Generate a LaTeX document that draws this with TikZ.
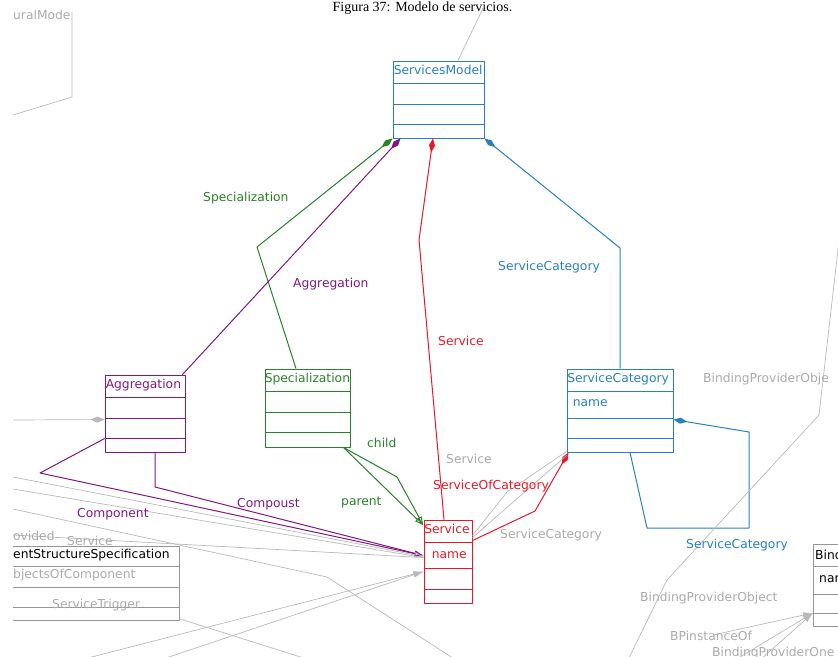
\documentclass[tikz,border=0pt]{standalone}
\usepackage{fontspec}
\setsansfont{DejaVu Sans}
\newfontfamily\capfont{Liberation Serif}
\usetikzlibrary{arrows.meta,positioning,calc}
\definecolor{smBlue}{RGB}{40,128,190}
\definecolor{smPurple}{RGB}{128,24,128}
\definecolor{smGreen}{RGB}{40,130,40}
\definecolor{smRed}{RGB}{230,25,40}
\definecolor{lineGray}{RGB}{185,185,185}
\definecolor{boxGray}{RGB}{150,150,150}
\definecolor{textGray}{RGB}{170,170,170}

\begin{document}
\begin{tikzpicture}[x=1pt, y=-1pt, line join=round,
    every node/.style={font=\sffamily\fontsize{12.3}{14}\selectfont, inner sep=0pt},
    cls/.style={draw=#1, line width=0.9pt},
    ttl/.style={anchor=base west, text=#1},
    link/.style={draw=#1, line width=1pt},
    comp/.style={{Diamond[length=14pt,width=6pt]}-},
    nav/.style={-{Latex[open,length=9pt,width=6pt]}},
    fnav/.style={-{Latex[length=10pt,width=6pt]}}]
  \useasboundingbox (0,0) rectangle (838,656);

  % caption
  \node[font=\capfont\fontsize{14}{16}\selectfont, anchor=base] (caption) at (422.5,11) {Figura 37: Modelo de servicios.};

  \begin{scope}
    \clip (13,0) rectangle (838,656);

    % ServicesModel
    \node[cls=smBlue, minimum width=91pt, minimum height=77pt] (model) at (438.5,99.5) {};
    \node[ttl=smBlue] (model-t) at ([xshift=1,yshift=-14]model.north west) {ServicesModel};
    \foreach \d in {23,44,64}
      \draw[smBlue, line width=0.9pt] ([yshift=-\d]model.north west) -- ([yshift=-\d]model.north east);

    % Aggregation
    \node[cls=smPurple, minimum width=80pt, minimum height=77pt] (aggr) at (145,413.5) {};
    \node[ttl=smPurple] (aggr-t) at ([xshift=1,yshift=-14]aggr.north west) {Aggregation};
    \foreach \d in {23,44,64}
      \draw[smPurple, line width=0.9pt] ([yshift=-\d]aggr.north west) -- ([yshift=-\d]aggr.north east);

    % Specialization
    \node[cls=smGreen, minimum width=85pt, minimum height=78pt] (spec) at (307.5,408) {};
    \node[ttl=smGreen] (spec-t) at ([xshift=0,yshift=-14]spec.north west) {Specialization};
    \foreach \d in {23,44,64}
      \draw[smGreen, line width=0.9pt] ([yshift=-\d]spec.north west) -- ([yshift=-\d]spec.north east);

    % Service
    \node[cls=smRed, minimum width=48pt, minimum height=83pt] (serv) at (448,561.5) {};
    \node[ttl=smRed] (serv-t) at ([xshift=0.5,yshift=-14]serv.north west) {Service};
    \node[ttl=smRed] (serv-a) at ([xshift=8,yshift=-39]serv.north west) {name};
    \foreach \d in {23,49,70}
      \draw[smRed, line width=0.9pt] ([yshift=-\d]serv.north west) -- ([yshift=-\d]serv.north east);

    % ServiceCategory
    \node[cls=smBlue, minimum width=106pt, minimum height=83pt] (cat) at (620,410.5) {};
    \node[ttl=smBlue] (cat-t) at ([xshift=0.5,yshift=-14]cat.north west) {ServiceCategory};
    \node[ttl=smBlue] (cat-a) at ([xshift=6,yshift=-38]cat.north west) {name};
    \foreach \d in {23,50,70}
      \draw[smBlue, line width=0.9pt] ([yshift=-\d]cat.north west) -- ([yshift=-\d]cat.north east);

    % boxes cut by the edges
    \node[cls=boxGray, minimum width=60pt, minimum height=82pt, anchor=north west] (bind) at (813,544) {};
    \node[ttl=black] (bind-t) at ([xshift=2,yshift=-15]bind.north west) {Bind};
    \node[ttl=black] (bind-a) at ([xshift=6,yshift=-38]bind.north west) {nar};
    \foreach \d in {22,50,69}
      \draw[boxGray, line width=0.8pt] ([yshift=-\d]bind.north west) -- ([yshift=-\d]bind.north east);

    \node[cls=boxGray, minimum width=200pt, minimum height=74pt, anchor=north east] (ess) at (180,546) {};
    \node[ttl=black] (ess-t) at (13,558) {entStructureSpecification};
    \foreach \d in {20,41,61}
      \draw[boxGray, line width=0.8pt] ([yshift=-\d]ess.north west) -- ([yshift=-\d]ess.north east);

    % free ends of the gray links
    \coordinate (u1) at (72,12);
    \coordinate (u3) at (13,115);
    \coordinate (t1) at (484,6);
    \coordinate (w1) at (13,420);
    \coordinate (w2) at (13,477);
    \coordinate (w3) at (13,489);
    \coordinate (w4) at (13,535);
    \coordinate (w5) at (13,509);
    \coordinate (s1) at (456,660);
    \coordinate (s2) at (80,660);
    \coordinate (s3) at (160,660);
    \coordinate (s4) at (310,660);
    \coordinate (s5) at (628,660);
    \coordinate (e1) at (840,232);
    \coordinate (b1) at (713,635);
    \coordinate (b2) at (735,660);
    \coordinate (b3) at (760,660);

    % compositions into ServicesModel
    \draw[link=smGreen, comp] (model.south west) -- (257,247) -- ([xshift=-11.5]spec.north);
    \draw[link=smPurple, comp] ([xshift=8]model.south west) -- ([xshift=-3]aggr.north east);
    \draw[link=smRed, comp] ([xshift=-5.5]model.south) -- (419,240) -- ([xshift=-4]serv.north);
    \draw[link=smBlue, comp] (model.south east) -- (620,248) -- (cat.north);

    % ServiceCategory onto itself
    \draw[link=smBlue, comp] ([yshift=-51]cat.north east) -- (749,432) -- (749,528) -- (647,528) -- ([xshift=10]cat.south);

    % Aggregation -> Service
    \draw[link=smPurple, nav] ([yshift=-64]aggr.north west) -- (40,473) -- ([yshift=-36]serv.north west);
    \draw[link=smPurple, nav] ([xshift=10]aggr.south) -- (155,487) -- ([yshift=-36]serv.north west);

    % Specialization -> Service
    \draw[link=smGreen, nav] ([xshift=-7]spec.south east) -- (397,477) -- ([yshift=-6]serv.north west);
    \draw[link=smGreen, nav] ([xshift=-7]spec.south east) -- ([yshift=-6]serv.north west);

    % Service <- ServiceCategory
    \draw[link=smRed, comp] ([xshift=2]cat.south west) -- (535,511) -- ([yshift=-21]serv.north east);
    \draw[link=lineGray, line width=0.7pt] ([yshift=-18]serv.north east) -- ([yshift=-3]cat.south west);
    \draw[link=lineGray, line width=0.7pt] ([yshift=-16]serv.north east) -- (507,492) -- ([yshift=1]cat.south west);

    % gray links from the rest of the model
    \draw[link=lineGray, line width=0.7pt] (u1) -- (72,97) -- (u3);
    \draw[link=lineGray, line width=0.7pt] ([xshift=19.5]model.north) -- (t1);
    \draw[link=lineGray, line width=0.7pt, comp] ([yshift=-45]aggr.north west) -- (w1);
    \draw[link=lineGray, line width=0.7pt, nav] (w2) -- ([yshift=-37]serv.north west);
    \draw[link=lineGray, line width=0.7pt] (w3) -- ([yshift=-38]serv.north west);
    \draw[link=lineGray, line width=0.7pt] (w4) -- ([yshift=-38]serv.north west);
    \draw[link=lineGray, line width=0.7pt] (w5) -- (327,577) -- (s1);
    \draw[link=lineGray, line width=0.7pt, fnav] (s2) -- ([yshift=-52]serv.north west);
    \draw[link=lineGray, line width=0.7pt, fnav] (s3) -- ([yshift=-52]serv.north west);
    \draw[link=lineGray, line width=0.7pt] ([yshift=2]ess.south east) -- (s4);
    \draw[link=lineGray, line width=0.7pt] (e1) -- (819,415) -- (667,580) -- (s5);
    \draw[link=lineGray, line width=0.7pt, fnav] (b1) -- ([yshift=-69]bind.north west);
    \draw[link=lineGray, line width=0.7pt, fnav] (b2) -- ([yshift=-69]bind.north west);
    \draw[link=lineGray, line width=0.7pt, fnav] (b3) -- ([yshift=-69]bind.north west);

    % association names
    \node[ttl=smGreen] (n-spec) at (203,201) {Specialization};
    \node[ttl=smPurple] (n-aggr) at (293,287) {Aggregation};
    \node[ttl=smBlue] (n-cat) at (498,270) {ServiceCategory};
    \node[ttl=smRed] (n-serv) at (438,345) {Service};
    \node[ttl=smGreen] (n-child) at (367,447) {child};
    \node[ttl=smGreen] (n-parent) at (341,505) {parent};
    \node[ttl=smPurple] (n-compoust) at (237,507) {Compoust};
    \node[ttl=smPurple] (n-component) at (77,517) {Component};
    \node[ttl=smRed] (n-ofcat) at (433,489) {ServiceOfCategory};
    \node[ttl=smBlue] (n-self) at (686,548) {ServiceCategory};

    \node[ttl=textGray] (g-serv) at (446,463) {Service};
    \node[ttl=textGray] (g-cat) at (500,538) {ServiceCategory};
    \node[ttl=textGray] (g-bpo1) at (703,382) {BindingProviderObje};
    \node[ttl=textGray] (g-bpo2) at (640,601) {BindingProviderObject};
    \node[ttl=textGray] (g-bpi) at (670,640) {BPinstanceOf};
    \node[ttl=textGray] (g-bpone) at (712,656) {BindingProviderOne};
    \node[ttl=textGray] (g-prov) at (13,540) {ovided};
    \node[ttl=textGray] (g-lserv) at (67,545) {Service};
    \node[ttl=textGray] (g-objs) at (13,578) {bjectsOfComponent};
    \node[ttl=textGray] (g-trig) at (52,608) {ServiceTrigger};
    \node[ttl=textGray] (g-model) at (13,19) {uralMode};
  \end{scope}
\end{tikzpicture}
\end{document}
